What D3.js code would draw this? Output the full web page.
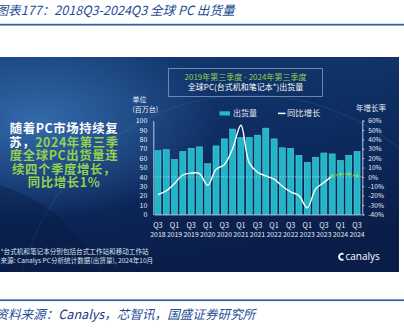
<!DOCTYPE html>
<html><head><meta charset="utf-8">
<script src="https://cdn.jsdelivr.net/npm/d3@7"></script>
<style>
html,body{margin:0;padding:0;background:#fff;overflow:hidden}
svg{display:block}
</style></head><body>
<svg id="c" width="404" height="336"></svg>
<script>
const categories = ["Q3 2018","Q4 2018","Q1 2019","Q2 2019","Q3 2019","Q4 2019","Q1 2020","Q2 2020","Q3 2020","Q4 2020","Q1 2021","Q2 2021","Q3 2021","Q4 2021","Q1 2022","Q2 2022","Q3 2022","Q4 2022","Q1 2023","Q2 2023","Q3 2023","Q4 2023","Q1 2024","Q2 2024","Q3 2024"];
const shipments = [68, 69, 58.5, 67, 70.5, 72, 54, 73, 80.5, 91, 82, 82, 84.5, 92, 80.5, 71, 70.5, 63, 55.5, 61, 65.5, 64.5, 57.5, 63, 67];
const growth = [-19, -15, -7, 2, 4, 3.5, -9, 8, 13, 30, 55, 15, 5, 1, -2.5, -10, -16, -20, -33, -13, -6, 1, 3, 3, 1];
const highlightFrom = "Q4 2023";
const leftTicks = [0,10,20,30,40,50,60,70,80,90,100];
const rightTicks = [-40,-30,-20,-10,0,10,20,30,40,50,60];
const titleText = "图表177：2018Q3-2024Q3 全球 PC 出货量";
const sourceParts = ["资料来源：", "Canalys", "，芯智讯，国盛证券研究所"];
const headline = [
  [["随着PC市场持续复", "#ffffff"]],
  [["苏，", "#ffffff"], ["2024年第三季", "#92d050"]],
  [["度全球PC出货量连", "#92d050"]],
  [["续四个季度增长，", "#92d050"]],
  [["同比增长1%", "#92d050"]]
];
const boxLines = ["2019年第三季度 - 2024年第三季度", "全球PC(台式机和笔记本*)出货量"];
const legendLabels = ["出货量", "同比增长"];
const footnotes = ["*台式机和笔记本分别包括台式工作站和移动工作站", "来源: Canalys PC分析统计数据(出货量), 2024年10月"];

const CJK = "'Noto Sans CJK SC','Noto Sans',sans-serif";
const svg = d3.select("#c");
const defs = svg.append("defs");

// Title
svg.append("text").attr("x", -4.5).attr("y", 14.5)
  .attr("font-family", CJK).attr("font-size", 12.6).attr("font-style", "italic")
  .attr("fill", "#1f4e96").text(titleText);
svg.append("rect").attr("x", 0).attr("y", 23.8).attr("width", 404).attr("height", 1.8).attr("fill", "#3564a3");

// Panel background
const lg = defs.append("linearGradient").attr("id", "bg").attr("x1", 0).attr("y1", 0).attr("x2", 0.3).attr("y2", 1);
lg.append("stop").attr("offset", "0%").attr("stop-color", "#133b72");
lg.append("stop").attr("offset", "55%").attr("stop-color", "#0d2b5f");
lg.append("stop").attr("offset", "100%").attr("stop-color", "#0a1d49");
const rg = defs.append("radialGradient").attr("id", "glow").attr("cx", 0.1).attr("cy", 0.3).attr("r", 0.45);
rg.append("stop").attr("offset", "0%").attr("stop-color", "#3d78bd").attr("stop-opacity", 0.8);
rg.append("stop").attr("offset", "100%").attr("stop-color", "#3d78bd").attr("stop-opacity", 0);
defs.append("clipPath").attr("id", "pclip").append("rect").attr("x", 0).attr("y", 57).attr("width", 399).attr("height", 215);

const panel = svg.append("g").attr("clip-path", "url(#pclip)");
panel.append("rect").attr("x", 0).attr("y", 57).attr("width", 399).attr("height", 215).attr("fill", "url(#bg)");
panel.append("rect").attr("x", 0).attr("y", 57).attr("width", 399).attr("height", 215).attr("fill", "url(#glow)");
panel.append("circle").attr("cx", 250).attr("cy", 330).attr("r", 235).attr("fill", "none")
  .attr("stroke", "#5b8fd0").attr("stroke-opacity", 0.18).attr("stroke-width", 1.2);
panel.append("circle").attr("cx", -40).attr("cy", 330).attr("r", 150).attr("fill", "#071a40").attr("fill-opacity", 0.35);

// headline text
const hl = svg.append("g").attr("font-family", CJK).attr("font-weight", 700).attr("font-size", 12.4)
  .attr("letter-spacing", 0.6);
headline.forEach((parts, i) => {
  const t = hl.append("text").attr("x", 64).attr("y", 133.3 + i * 13.4).attr("text-anchor", "middle");
  parts.forEach(p => t.append("tspan").attr("fill", p[1]).text(p[0]));
});

// header box
svg.append("rect").attr("x", 168.5).attr("y", 68.5).attr("width", 154).attr("height", 28)
  .attr("fill", "none").attr("stroke", "#7f9fb8").attr("stroke-width", 0.8);
svg.append("text").attr("x", 245.5).attr("y", 79.5).attr("text-anchor", "middle")
  .attr("font-family", CJK).attr("font-size", 8).attr("fill", "#92d050").text(boxLines[0]);
svg.append("text").attr("x", 245.5).attr("y", 90.3).attr("text-anchor", "middle")
  .attr("font-family", CJK).attr("font-size", 8).attr("fill", "#ffffff").text(boxLines[1]);

// scales
const x = d3.scaleBand().domain(categories).range([153.8, 361.2]).paddingInner(0.27).paddingOuter(0.135);
const y = d3.scaleLinear().domain([0, 100]).range([214.4, 120.6]);
const yR = d3.scaleLinear().domain([-40, 60]).range([214.4, 120.6]);
const cx = d => x(d) + x.bandwidth() / 2;

// axis titles
const at = svg.append("g").attr("font-family", CJK).attr("font-size", 7).attr("fill", "#e6edf5");
at.append("text").attr("x", 132.5).attr("y", 101.8).text("单位");
at.append("text").attr("x", 132.5).attr("y", 111.5).text("(百万台)");
at.append("text").attr("x", 356).attr("y", 111).attr("font-size", 7.5).text("年增长率");

// legend
svg.append("rect").attr("x", 219.5).attr("y", 111.3).attr("width", 10.5).attr("height", 4.2).attr("fill", "#22b9c9");
svg.append("text").attr("x", 233).attr("y", 116.3).attr("font-family", CJK).attr("font-size", 8).attr("fill", "#e6edf5").text(legendLabels[0]);
svg.append("line").attr("x1", 278).attr("x2", 285.5).attr("y1", 113.4).attr("y2", 113.4).attr("stroke", "#ffffff").attr("stroke-width", 1.5);
svg.append("text").attr("x", 287).attr("y", 116.3).attr("font-family", CJK).attr("font-size", 8.4).attr("fill", "#e6edf5").text(legendLabels[1]);

// bars
svg.append("g").selectAll("rect").data(categories).join("rect")
  .attr("x", d => x(d)).attr("width", x.bandwidth())
  .attr("y", (d, i) => y(shipments[i])).attr("height", (d, i) => y(0) - y(shipments[i]))
  .attr("fill", "#20b6c7").attr("stroke", "#66d6e2").attr("stroke-width", 0.5);

// zero growth dashed line
svg.append("line").attr("x1", 153.5).attr("x2", 362).attr("y1", yR(0)).attr("y2", yR(0))
  .attr("stroke", "#ffffff").attr("stroke-opacity", 0.75).attr("stroke-width", 0.6).attr("stroke-dasharray", "1.5,1.5");

// growth line
const pts = categories.map((c, i) => [cx(c), yR(growth[i])]);
const hi = categories.indexOf(highlightFrom);
const line = d3.line().curve(d3.curveCatmullRom.alpha(0.5));
svg.append("path").attr("d", line(pts.slice(0, hi + 1))).attr("fill", "none")
  .attr("stroke", "#ffffff").attr("stroke-width", 1.4);
svg.append("path").attr("d", line(pts.slice(hi))).attr("fill", "none")
  .attr("stroke", "#92d050").attr("stroke-width", 1.3).attr("stroke-dasharray", "2,1.5");
svg.append("g").selectAll("circle").data(pts.slice(hi)).join("circle")
  .attr("cx", d => d[0]).attr("cy", d => d[1]).attr("r", 1.6).attr("fill", "#92d050");

// axes
const axL = svg.append("g").attr("transform", "translate(153.3,0)")
  .call(d3.axisLeft(y).tickValues(leftTicks).tickSize(0).tickPadding(6));
const axR = svg.append("g").attr("transform", "translate(362.3,0)")
  .call(d3.axisRight(yR).tickValues(rightTicks).tickSize(2).tickPadding(4).tickFormat(d => d + "%"));
const axB = svg.append("g").attr("transform", `translate(0,${y(0)})`)
  .call(d3.axisBottom(x).tickSize(0).tickFormat(() => ""));
[axL, axR, axB].forEach(a => {
  a.select(".domain").attr("stroke", "#b9c9dc").attr("stroke-width", 1);
  a.selectAll(".tick line").attr("stroke", "#b9c9dc");
  a.selectAll("text").attr("fill", "#e6edf5").attr("font-family", CJK).attr("font-size", 7);
});
axR.selectAll("text").attr("font-size", 6.6);

// bottom labels (every other quarter)
const bl = svg.append("g").attr("font-family", CJK).attr("fill", "#e6edf5").attr("text-anchor", "middle");
categories.forEach((c, i) => {
  if (i % 2) return;
  const [q, yr] = c.split(" ");
  bl.append("text").attr("x", cx(c)).attr("y", 227.8).attr("font-size", 7.3).text(q);
  bl.append("text").attr("x", cx(c)).attr("y", 236.6).attr("font-size", 6.9).text(yr);
});

// footnotes
footnotes.forEach((f, i) => {
  svg.append("text").attr("x", 0.5).attr("y", 254.2 + i * 8.4).attr("font-family", CJK)
    .attr("font-size", 6.6).attr("fill", "#d9e2ec").text(f);
});

// canalys logo
svg.append("path").attr("d", "M343.5,253 A4,4 0 1 0 343.5,260.5 L343.5,258.6 A2.2,2.2 0 1 1 343.5,255 Z")
  .attr("fill", "#ffffff");
svg.append("text").attr("x", 345.5).attr("y", 259.6).attr("font-family", "'Open Sans',sans-serif")
  .attr("font-size", 10).attr("fill", "#ffffff").text("canalys");

// bottom rule and source
svg.append("rect").attr("x", 0).attr("y", 299.3).attr("width", 404).attr("height", 1.8).attr("fill", "#3564a3");
const src = svg.append("text").attr("x", -4.7).attr("y", 319).attr("font-family", CJK)
  .attr("font-size", 12.6).attr("font-style", "italic").attr("fill", "#1f4e96");
src.append("tspan").text(sourceParts[0]);
src.append("tspan").attr("fill", "#1a3585").text(sourceParts[1]);
src.append("tspan").text(sourceParts[2]);
</script>
</body></html>
